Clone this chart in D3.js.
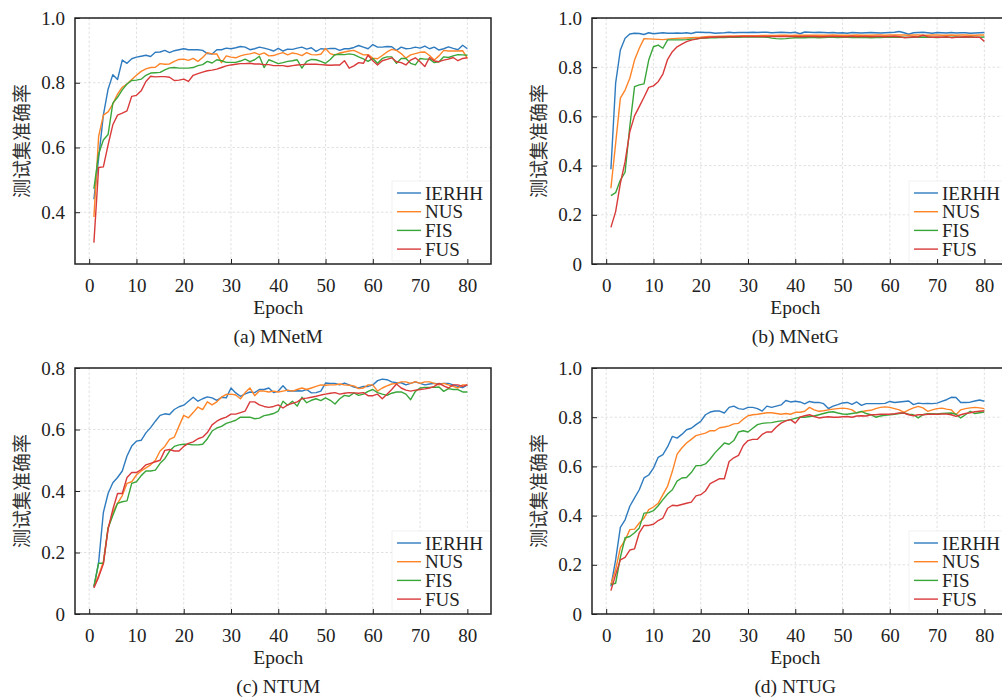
<!DOCTYPE html>
<html>
<head>
<meta charset="utf-8">
<script src="https://cdnjs.cloudflare.com/ajax/libs/d3/7.8.5/d3.min.js"></script>
<style>
  html, body { margin: 0; padding: 0; background: #fff; }
  svg { display: block; }
</style>
</head>
<body>
<svg id="chart" width="1002" height="700"></svg>
<script>
// epochs 1..80
const epochs = d3.range(1, 81)
const seriesNames = ['IERHH', 'NUS', 'FIS', 'FUS']
const seriesColors = ['#2f7bbf', '#ff8427', '#3aa63a', '#d93a3a']
const SERIF = "'Liberation Serif', 'Times New Roman', Times, 'DejaVu Serif', serif"
const CJK = "'Noto Sans CJK SC', sans-serif"

// (a) MNetM
const mnetmIERHH = [0.44,0.567,0.70,0.78,0.825,0.81,0.87,0.86,0.874,0.879,
  0.882,0.885,0.881,0.894,0.895,0.90,0.893,0.899,0.902,0.905,
  0.902,0.902,0.902,0.90,0.89,0.889,0.902,0.902,0.907,0.905,
  0.908,0.912,0.91,0.902,0.905,0.91,0.907,0.903,0.898,0.906,
  0.898,0.904,0.903,0.907,0.91,0.904,0.908,0.897,0.905,0.904,
  0.906,0.906,0.90,0.905,0.905,0.909,0.915,0.91,0.905,0.918,
  0.91,0.91,0.912,0.911,0.90,0.91,0.905,0.906,0.91,0.907,
  0.913,0.905,0.91,0.901,0.905,0.911,0.906,0.902,0.916,0.905]
const mnetmNUS = [0.385,0.634,0.70,0.71,0.734,0.765,0.786,0.796,0.81,0.823,
  0.835,0.843,0.847,0.848,0.859,0.857,0.858,0.866,0.872,0.873,
  0.869,0.875,0.866,0.878,0.893,0.889,0.889,0.862,0.883,0.879,
  0.877,0.883,0.887,0.889,0.893,0.887,0.892,0.883,0.884,0.889,
  0.893,0.886,0.892,0.889,0.884,0.893,0.887,0.886,0.888,0.906,
  0.89,0.885,0.892,0.895,0.898,0.90,0.893,0.886,0.887,0.876,
  0.874,0.884,0.895,0.903,0.90,0.89,0.876,0.886,0.89,0.894,
  0.895,0.884,0.87,0.883,0.90,0.898,0.898,0.898,0.899,0.875]
const mnetmFIS = [0.472,0.58,0.623,0.64,0.737,0.755,0.778,0.796,0.807,0.808,
  0.811,0.823,0.83,0.831,0.832,0.84,0.846,0.847,0.845,0.845,
  0.845,0.847,0.853,0.856,0.866,0.861,0.871,0.868,0.863,0.863,
  0.863,0.867,0.873,0.865,0.871,0.882,0.847,0.871,0.865,0.859,
  0.862,0.866,0.868,0.871,0.845,0.866,0.872,0.871,0.866,0.86,
  0.872,0.887,0.888,0.887,0.889,0.887,0.88,0.874,0.866,0.875,
  0.86,0.875,0.88,0.88,0.86,0.875,0.875,0.86,0.855,0.875,
  0.873,0.873,0.862,0.865,0.88,0.878,0.883,0.887,0.886,0.885]
const mnetmFUS = [0.306,0.538,0.54,0.608,0.67,0.70,0.706,0.713,0.758,0.761,
  0.775,0.804,0.82,0.818,0.819,0.819,0.817,0.807,0.808,0.811,
  0.804,0.823,0.828,0.833,0.837,0.839,0.842,0.847,0.852,0.855,
  0.857,0.859,0.859,0.86,0.858,0.858,0.856,0.856,0.853,0.853,
  0.853,0.85,0.853,0.855,0.856,0.857,0.857,0.857,0.856,0.855,
  0.854,0.855,0.855,0.868,0.845,0.852,0.862,0.86,0.885,0.868,
  0.855,0.868,0.872,0.877,0.865,0.862,0.855,0.87,0.877,0.865,
  0.85,0.878,0.867,0.865,0.87,0.873,0.878,0.868,0.875,0.877]

// (b) MNetG
const mnetgIERHH = [0.385,0.735,0.87,0.918,0.935,0.938,0.937,0.933,0.94,0.936,
  0.938,0.94,0.938,0.938,0.939,0.938,0.94,0.937,0.942,0.942,
  0.941,0.941,0.938,0.939,0.94,0.942,0.94,0.941,0.941,0.941,
  0.942,0.941,0.942,0.942,0.94,0.941,0.942,0.941,0.94,0.942,
  0.936,0.943,0.942,0.941,0.942,0.941,0.94,0.941,0.939,0.94,
  0.938,0.941,0.94,0.939,0.94,0.941,0.94,0.939,0.94,0.941,
  0.942,0.945,0.94,0.934,0.94,0.941,0.942,0.94,0.938,0.941,
  0.94,0.939,0.941,0.939,0.94,0.94,0.938,0.939,0.94,0.941]
const mnetgNUS = [0.308,0.49,0.674,0.707,0.755,0.829,0.877,0.916,0.915,0.914,
  0.913,0.912,0.914,0.916,0.917,0.918,0.919,0.92,0.921,0.922,
  0.924,0.925,0.925,0.926,0.926,0.927,0.927,0.927,0.928,0.928,
  0.928,0.928,0.929,0.929,0.929,0.929,0.93,0.93,0.929,0.93,
  0.93,0.93,0.93,0.93,0.93,0.93,0.93,0.931,0.93,0.93,
  0.93,0.93,0.931,0.93,0.93,0.93,0.931,0.931,0.93,0.931,
  0.931,0.931,0.931,0.93,0.931,0.931,0.93,0.93,0.931,0.931,
  0.93,0.93,0.931,0.93,0.931,0.931,0.93,0.93,0.931,0.931]
const mnetgFIS = [0.278,0.29,0.341,0.373,0.56,0.721,0.728,0.732,0.829,0.883,
  0.89,0.877,0.911,0.911,0.911,0.911,0.912,0.914,0.915,0.917,
  0.919,0.92,0.92,0.921,0.921,0.922,0.922,0.922,0.923,0.923,
  0.923,0.923,0.923,0.922,0.918,0.916,0.915,0.916,0.918,0.92,
  0.921,0.92,0.921,0.921,0.92,0.921,0.922,0.922,0.921,0.922,
  0.922,0.921,0.921,0.922,0.921,0.92,0.921,0.921,0.922,0.922,
  0.922,0.923,0.922,0.921,0.922,0.922,0.923,0.922,0.922,0.921,
  0.922,0.922,0.922,0.923,0.922,0.922,0.923,0.922,0.922,0.923]
const mnetgFUS = [0.149,0.213,0.328,0.416,0.538,0.602,0.64,0.678,0.718,0.724,
  0.741,0.772,0.832,0.863,0.883,0.894,0.904,0.91,0.914,0.918,
  0.92,0.922,0.923,0.923,0.924,0.924,0.924,0.925,0.925,0.925,
  0.925,0.925,0.925,0.925,0.925,0.925,0.925,0.925,0.925,0.925,
  0.924,0.925,0.925,0.925,0.924,0.924,0.925,0.925,0.925,0.924,
  0.924,0.926,0.924,0.925,0.925,0.924,0.925,0.925,0.924,0.925,
  0.926,0.924,0.92,0.922,0.924,0.923,0.93,0.924,0.922,0.923,
  0.922,0.924,0.92,0.922,0.923,0.924,0.923,0.922,0.922,0.905]

// (c) NTUM
const ntumIERHH = [0.087,0.168,0.33,0.392,0.427,0.444,0.465,0.514,0.546,0.562,
  0.565,0.589,0.606,0.627,0.646,0.651,0.649,0.665,0.674,0.679,
  0.692,0.705,0.692,0.70,0.706,0.703,0.695,0.705,0.703,0.735,
  0.719,0.708,0.716,0.722,0.72,0.73,0.73,0.735,0.72,0.725,
  0.742,0.725,0.725,0.726,0.725,0.73,0.719,0.72,0.725,0.751,
  0.75,0.75,0.745,0.751,0.745,0.738,0.735,0.74,0.74,0.745,
  0.759,0.764,0.762,0.755,0.752,0.752,0.745,0.75,0.755,0.75,
  0.745,0.748,0.75,0.748,0.75,0.75,0.745,0.74,0.736,0.745]
const ntumNUS = [0.09,0.125,0.17,0.28,0.33,0.36,0.385,0.425,0.43,0.452,
  0.465,0.475,0.485,0.50,0.53,0.545,0.568,0.575,0.611,0.646,
  0.638,0.655,0.673,0.665,0.69,0.68,0.69,0.705,0.714,0.715,
  0.712,0.70,0.72,0.735,0.71,0.725,0.725,0.722,0.725,0.722,
  0.725,0.728,0.725,0.73,0.735,0.73,0.735,0.74,0.745,0.744,
  0.745,0.745,0.748,0.745,0.744,0.742,0.733,0.735,0.745,0.745,
  0.725,0.735,0.742,0.748,0.75,0.755,0.755,0.75,0.756,0.75,
  0.755,0.755,0.75,0.745,0.75,0.745,0.74,0.735,0.745,0.745]
const ntumFIS = [0.09,0.165,0.165,0.28,0.32,0.36,0.365,0.368,0.425,0.43,
  0.45,0.465,0.465,0.468,0.49,0.505,0.53,0.545,0.55,0.552,
  0.552,0.55,0.55,0.552,0.57,0.595,0.605,0.61,0.62,0.625,
  0.63,0.64,0.64,0.64,0.635,0.637,0.645,0.648,0.652,0.66,
  0.692,0.679,0.692,0.676,0.705,0.687,0.695,0.70,0.694,0.703,
  0.695,0.683,0.70,0.711,0.708,0.719,0.711,0.715,0.724,0.73,
  0.72,0.715,0.711,0.718,0.722,0.722,0.715,0.697,0.724,0.735,
  0.737,0.737,0.737,0.738,0.724,0.733,0.73,0.73,0.722,0.722]
const ntumFUS = [0.085,0.12,0.163,0.276,0.34,0.392,0.392,0.444,0.46,0.46,
  0.47,0.485,0.49,0.495,0.50,0.532,0.535,0.53,0.53,0.545,
  0.555,0.56,0.57,0.575,0.59,0.615,0.627,0.635,0.64,0.65,
  0.65,0.655,0.66,0.69,0.69,0.68,0.675,0.672,0.675,0.68,
  0.67,0.68,0.685,0.69,0.70,0.702,0.705,0.708,0.712,0.715,
  0.718,0.72,0.715,0.718,0.72,0.719,0.718,0.72,0.71,0.71,
  0.715,0.70,0.715,0.73,0.748,0.735,0.728,0.725,0.728,0.73,
  0.732,0.735,0.74,0.75,0.742,0.735,0.745,0.745,0.74,0.745]

// (d) NTUG
const ntugIERHH = [0.112,0.22,0.352,0.383,0.438,0.472,0.505,0.553,0.565,0.593,
  0.637,0.648,0.68,0.722,0.715,0.73,0.749,0.755,0.77,0.783,
  0.81,0.821,0.825,0.825,0.817,0.84,0.845,0.835,0.832,0.84,
  0.84,0.835,0.825,0.845,0.84,0.845,0.85,0.868,0.862,0.865,
  0.862,0.854,0.864,0.86,0.86,0.855,0.835,0.845,0.851,0.858,
  0.86,0.852,0.862,0.848,0.855,0.855,0.855,0.855,0.856,0.864,
  0.86,0.862,0.864,0.866,0.851,0.857,0.855,0.856,0.855,0.857,
  0.864,0.871,0.881,0.88,0.86,0.86,0.861,0.866,0.87,0.865]
const ntugNUS = [0.12,0.18,0.27,0.30,0.343,0.345,0.37,0.39,0.424,0.435,
  0.45,0.485,0.52,0.58,0.65,0.675,0.695,0.71,0.725,0.73,
  0.735,0.745,0.745,0.757,0.76,0.765,0.773,0.775,0.792,0.806,
  0.81,0.812,0.815,0.818,0.818,0.815,0.812,0.815,0.812,0.82,
  0.82,0.824,0.84,0.83,0.824,0.826,0.83,0.833,0.835,0.837,
  0.835,0.83,0.817,0.822,0.826,0.828,0.835,0.84,0.842,0.84,
  0.835,0.83,0.82,0.83,0.838,0.844,0.838,0.824,0.83,0.835,
  0.837,0.833,0.83,0.81,0.83,0.835,0.838,0.84,0.838,0.835]
const ntugFIS = [0.12,0.125,0.23,0.31,0.315,0.33,0.35,0.41,0.412,0.42,
  0.44,0.465,0.488,0.505,0.54,0.553,0.555,0.575,0.603,0.603,
  0.61,0.63,0.655,0.675,0.695,0.69,0.705,0.74,0.745,0.74,
  0.755,0.77,0.775,0.777,0.778,0.782,0.785,0.786,0.79,0.795,
  0.80,0.80,0.803,0.805,0.81,0.815,0.82,0.822,0.817,0.813,
  0.812,0.815,0.818,0.824,0.815,0.81,0.80,0.805,0.808,0.81,
  0.812,0.815,0.817,0.812,0.81,0.797,0.81,0.814,0.814,0.813,
  0.815,0.816,0.817,0.812,0.797,0.81,0.824,0.815,0.818,0.821]
const ntugFUS = [0.095,0.16,0.22,0.23,0.26,0.265,0.33,0.36,0.36,0.365,
  0.38,0.39,0.43,0.442,0.44,0.445,0.45,0.455,0.48,0.485,
  0.50,0.53,0.54,0.55,0.55,0.62,0.635,0.645,0.685,0.705,
  0.71,0.71,0.73,0.74,0.74,0.76,0.776,0.785,0.79,0.776,
  0.80,0.806,0.81,0.803,0.797,0.80,0.802,0.80,0.80,0.802,
  0.803,0.80,0.805,0.806,0.805,0.81,0.81,0.812,0.812,0.812,
  0.814,0.817,0.817,0.81,0.806,0.81,0.81,0.812,0.812,0.812,
  0.813,0.813,0.81,0.803,0.81,0.815,0.818,0.822,0.824,0.826]

const xTicks = [0, 10, 20, 30, 40, 50, 60, 70, 80]
const yLabel = '测试集准确率'
const xLabel = 'Epoch'

const panels = [
  { caption: '(a) MNetM', left: 75, top: 18, yDomain: [0.24, 1.0], yTicks: [0.4, 0.6, 0.8, 1.0],
    series: [mnetmIERHH, mnetmNUS, mnetmFIS, mnetmFUS] },
  { caption: '(b) MNetG', left: 592, top: 18, yDomain: [0, 1.0], yTicks: [0, 0.2, 0.4, 0.6, 0.8, 1.0],
    series: [mnetgIERHH, mnetgNUS, mnetgFIS, mnetgFUS] },
  { caption: '(c) NTUM', left: 75, top: 368, yDomain: [0, 0.8], yTicks: [0, 0.2, 0.4, 0.6, 0.8],
    series: [ntumIERHH, ntumNUS, ntumFIS, ntumFUS] },
  { caption: '(d) NTUG', left: 592, top: 368, yDomain: [0, 1.0], yTicks: [0, 0.2, 0.4, 0.6, 0.8, 1.0],
    series: [ntugIERHH, ntugNUS, ntugFIS, ntugFUS] },
]

const W = 416, H = 246
const svg = d3.select('#chart')

panels.forEach((p, pi) => {
  const g = svg.append('g').attr('transform', `translate(${p.left},${p.top})`)
  const x = d3.scaleLinear().domain([-3, 85]).range([0, W])
  const y = d3.scaleLinear().domain(p.yDomain).range([H, 0])

  // grid
  g.append('g').selectAll('line').data(xTicks).join('line')
    .attr('x1', d => x(d)).attr('x2', d => x(d)).attr('y1', 0).attr('y2', H)
    .attr('stroke', '#d9d9d9').attr('stroke-width', 0.8).attr('stroke-dasharray', '2.5,2')
  g.append('g').selectAll('line').data(p.yTicks).join('line')
    .attr('x1', 0).attr('x2', W).attr('y1', d => y(d)).attr('y2', d => y(d))
    .attr('stroke', '#d9d9d9').attr('stroke-width', 0.8).attr('stroke-dasharray', '2.5,2')

  // lines
  const clipId = 'clip' + pi
  g.append('clipPath').attr('id', clipId).append('rect').attr('width', W).attr('height', H)
  const line = d3.line().x((d, i) => x(epochs[i])).y(d => y(d))
  const lines = g.append('g').attr('clip-path', `url(#${clipId})`)
  p.series.forEach((s, si) => {
    lines.append('path').datum(s).attr('d', line)
      .attr('fill', 'none').attr('stroke', seriesColors[si]).attr('stroke-width', 1.4)
      .attr('stroke-linejoin', 'round')
  })

  // legend
  const lg = g.append('g').attr('transform', `translate(${W - 99},${H - 83})`)
  lg.append('rect').attr('width', 99).attr('height', 80).attr('fill', '#fff')
    .attr('stroke', '#eeeeee').attr('stroke-width', 0.8)
  seriesNames.forEach((n, si) => {
    const yy = 12 + si * 18.7
    lg.append('line').attr('x1', 5).attr('x2', 29).attr('y1', yy).attr('y2', yy)
      .attr('stroke', seriesColors[si]).attr('stroke-width', 1.4)
    lg.append('text').attr('x', 33).attr('y', yy + 6.5)
      .style('font-family', SERIF).style('font-size', '19px').attr('fill', '#222').text(n)
  })

  // axes: ticks inward, on bottom and left only
  const xAxis = d3.axisBottom(x).tickValues(xTicks).tickSizeInner(-5).tickSizeOuter(0).tickPadding(10)
  const yAxis = d3.axisLeft(y).tickValues(p.yTicks).tickSizeInner(-5).tickSizeOuter(0).tickPadding(10)
    .tickFormat(d => d === 0 ? '0' : d.toFixed(1))
  const gx = g.append('g').attr('transform', `translate(0,${H})`).call(xAxis)
  const gy = g.append('g').call(yAxis)
  ;[gx, gy].forEach(a => {
    a.attr('font-family', null).attr('font-size', null)
    a.select('.domain').remove()
    a.selectAll('.tick line').attr('stroke', '#222').attr('stroke-width', 1)
    a.selectAll('.tick text').attr('fill', '#222')
      .style('font-family', SERIF).style('font-size', '19px')
  })
  gx.selectAll('.tick text').attr('dy', '0.95em')

  // frame
  g.append('rect').attr('width', W).attr('height', H)
    .attr('fill', 'none').attr('stroke', '#222').attr('stroke-width', 1.5)

  // labels
  g.append('text').attr('x', x(40)).attr('y', H + 50).attr('text-anchor', 'middle')
    .style('font-family', SERIF).style('font-size', '19.5px').attr('fill', '#222').text(xLabel)
  g.append('text').attr('x', x(40)).attr('y', H + 79).attr('text-anchor', 'middle')
    .style('font-family', SERIF).style('font-size', '19.5px').attr('fill', '#222').text(p.caption)
  g.append('text')
    .attr('transform', `translate(${-53},${H / 2}) rotate(-90)`)
    .attr('text-anchor', 'middle').attr('dy', '0.35em')
    .style('font-family', CJK).style('font-size', '19px').attr('fill', '#333').text(yLabel)
})
</script>
</body>
</html>
